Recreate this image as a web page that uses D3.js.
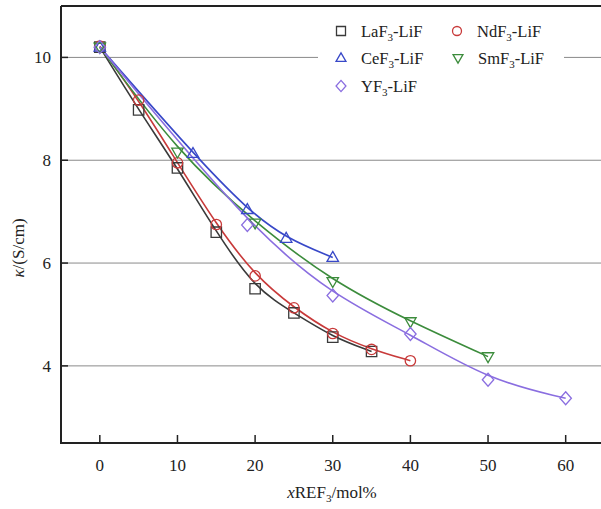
<!DOCTYPE html>
<html>
<head>
<meta charset="utf-8">
<script src="https://cdn.jsdelivr.net/npm/d3@7"></script>
<style>
  html, body { margin: 0; padding: 0; background: #fff; }
  svg { display: block; }
  text { font-family: "Liberation Serif", "Times New Roman", "DejaVu Serif", serif; fill: #222; }
</style>
</head>
<body>
<svg id="chart" width="601" height="509"></svg>
<script>
// Conductivity κ (S/cm) of REF3–LiF melts versus REF3 content (mol%)
const laX = [0, 5, 10, 15, 20, 25, 30, 35];
const laY = [10.2, 8.98, 7.85, 6.6, 5.5, 5.03, 4.56, 4.28];

const ndX = [0, 5, 10, 15, 20, 25, 30, 35, 40];
const ndY = [10.22, 9.17, 7.95, 6.75, 5.75, 5.13, 4.63, 4.32, 4.1];

const ceX = [0, 12, 19, 24, 30];
const ceY = [10.2, 8.13, 7.04, 6.48, 6.11];

const smX = [0, 10, 20, 30, 40, 50];
const smY = [10.2, 8.16, 6.78, 5.64, 4.86, 4.18];

const yfX = [0, 19, 30, 40, 50, 60];
const yfY = [10.2, 6.74, 5.37, 4.62, 3.73, 3.37];

const seriesNames = ["LaF3-LiF", "NdF3-LiF", "CeF3-LiF", "SmF3-LiF", "YF3-LiF"];
const seriesColors = ["#3a3a3a", "#c83a3a", "#3848c8", "#3c8c3c", "#8a6ee0"];
const seriesShapes = ["square", "circle", "triangleUp", "triangleDown", "diamond"];

const xTicks = [0, 10, 20, 30, 40, 50, 60];
const yTicks = [4, 6, 8, 10];

const series = [
  { xs: laX, ys: laY },
  { xs: ndX, ys: ndY },
  { xs: ceX, ys: ceY },
  { xs: smX, ys: smY },
  { xs: yfX, ys: yfY }
].map((s, i) => ({
  name: seriesNames[i],
  color: seriesColors[i],
  shape: seriesShapes[i],
  points: s.xs.map((x, j) => ({ x, y: s.ys[j] }))
}));

const svg = d3.select("#chart");
const plotL = 61, plotR = 604.5, plotT = 6, plotB = 443;

const x = d3.scaleLinear().domain([-5, 65]).range([plotL, plotR]);
const y = d3.scaleLinear().domain([2.5, 11]).range([plotB, plotT]);

// horizontal grid lines
svg.append("g")
  .selectAll("line")
  .data(yTicks)
  .join("line")
  .attr("x1", plotL).attr("x2", plotR)
  .attr("y1", d => y(d)).attr("y2", d => y(d))
  .attr("stroke", "#8a8a8a")
  .attr("stroke-width", 1);

// marker path builder
function markerPath(shape, r) {
  switch (shape) {
    case "square":
      return `M${-r},${-r}H${r}V${r}H${-r}Z`;
    case "circle":
      return `M${r},0A${r},${r} 0 1,1 ${-r},0A${r},${r} 0 1,1 ${r},0Z`;
    case "triangleUp":
      return `M0,${-r * 1.15}L${r * 1.1},${r * 0.75}L${-r * 1.1},${r * 0.75}Z`;
    case "triangleDown":
      return `M0,${r * 1.15}L${r * 1.1},${-r * 0.75}L${-r * 1.1},${-r * 0.75}Z`;
    case "diamond":
      return `M0,${-r * 1.25}L${r * 1.1},0L0,${r * 1.25}L${-r * 1.1},0Z`;
  }
}

// B-spline connection through the measured points
const line = d3.line()
  .x(d => x(d.x))
  .y(d => y(d.y))
  .curve(d3.curveBasis);

const plot = svg.append("g");

series.forEach(s => {
  plot.append("path")
    .datum(s.points)
    .attr("d", line)
    .attr("fill", "none")
    .attr("stroke", s.color)
    .attr("stroke-width", 1.6);
});

series.forEach(s => {
  plot.append("g")
    .selectAll("path")
    .data(s.points)
    .join("path")
    .attr("transform", d => `translate(${x(d.x)},${y(d.y)})`)
    .attr("d", markerPath(s.shape, 5.2))
    .attr("fill", "none")
    .attr("stroke", s.color)
    .attr("stroke-width", 1.3);
});

// legend
const legend = svg.append("g");
legend.append("rect")
  .attr("x", 318).attr("y", 14)
  .attr("width", 246).attr("height", 88)
  .attr("fill", "#fff");

const legendPos = [
  [341, 31], [457, 31],
  [341, 58], [458, 58],
  [341, 86]
];
const legendMain = ["LaF", "NdF", "CeF", "SmF", "YF"];

series.forEach((s, i) => {
  const [lx, ly] = legendPos[i];
  legend.append("path")
    .attr("transform", `translate(${lx},${ly})`)
    .attr("d", markerPath(s.shape, 4.5))
    .attr("fill", "none")
    .attr("stroke", s.color)
    .attr("stroke-width", 1.3);
  const t = legend.append("text")
    .attr("x", lx + 20).attr("y", ly + 5.5)
    .attr("font-size", 16.5);
  t.append("tspan").text(legendMain[i]);
  t.append("tspan").attr("font-size", 11).attr("dy", 4).text("3");
  t.append("tspan").attr("dy", -4).text("-LiF");
});

// frame / axes
svg.append("line")
  .attr("x1", plotL).attr("x2", plotR)
  .attr("y1", plotT).attr("y2", plotT)
  .attr("stroke", "#222").attr("stroke-width", 2);
svg.append("line")
  .attr("x1", plotL).attr("x2", plotL)
  .attr("y1", plotT).attr("y2", plotB)
  .attr("stroke", "#222").attr("stroke-width", 2);
svg.append("line")
  .attr("x1", plotL - 1).attr("x2", plotR)
  .attr("y1", plotB).attr("y2", plotB)
  .attr("stroke", "#222").attr("stroke-width", 2);

// x axis ticks (inward) and labels
const xAxis = svg.append("g");
xAxis.selectAll("line")
  .data(xTicks)
  .join("line")
  .attr("x1", d => x(d)).attr("x2", d => x(d))
  .attr("y1", plotB).attr("y2", plotB - 8)
  .attr("stroke", "#222").attr("stroke-width", 1.5);
xAxis.selectAll("text")
  .data(xTicks)
  .join("text")
  .attr("x", d => x(d)).attr("y", plotB + 28)
  .attr("text-anchor", "middle")
  .attr("font-size", 17)
  .text(d => d);

// y axis ticks (inward) and labels
const yAxis = svg.append("g");
yAxis.selectAll("line")
  .data(yTicks)
  .join("line")
  .attr("x1", plotL).attr("x2", plotL + 7)
  .attr("y1", d => y(d)).attr("y2", d => y(d))
  .attr("stroke", "#222").attr("stroke-width", 1.5);
yAxis.selectAll("text")
  .data(yTicks)
  .join("text")
  .attr("x", plotL - 10).attr("y", d => y(d) + 6)
  .attr("text-anchor", "end")
  .attr("font-size", 17)
  .text(d => d);

// axis titles
const xt = svg.append("text")
  .attr("x", 332).attr("y", 498)
  .attr("text-anchor", "middle")
  .attr("font-size", 17);
xt.append("tspan").attr("font-style", "italic").text("x");
xt.append("tspan").text("REF");
xt.append("tspan").attr("font-size", 11).attr("dy", 4).text("3");
xt.append("tspan").attr("dy", -4).text("/mol%");

const yt = svg.append("text")
  .attr("transform", "translate(24,248) rotate(-90)")
  .attr("text-anchor", "middle")
  .attr("font-size", 17);
yt.append("tspan").attr("font-style", "italic").text("κ");
yt.append("tspan").text("/(S/cm)");
</script>
</body>
</html>
